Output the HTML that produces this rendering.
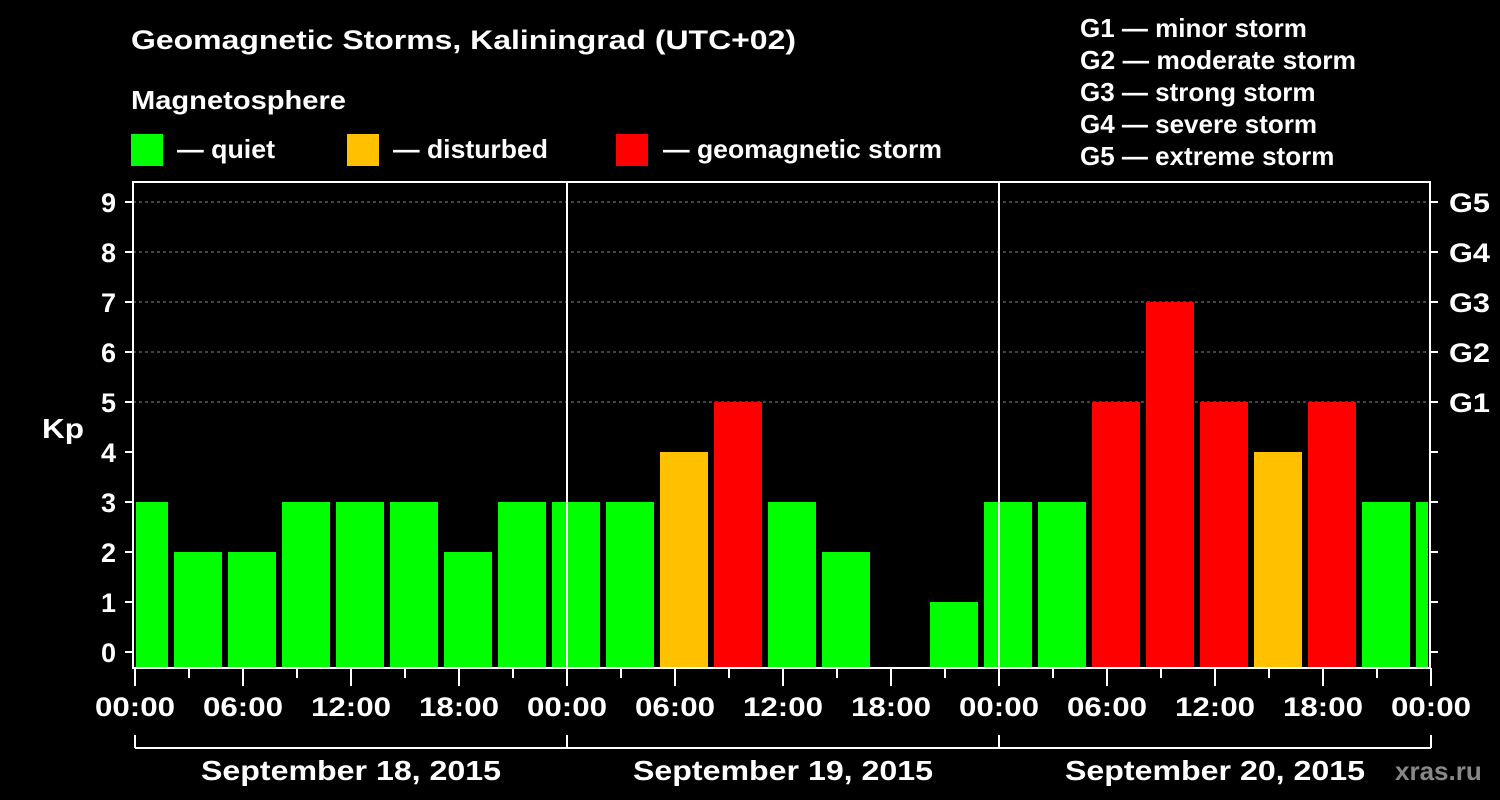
<!DOCTYPE html>
<html><head><meta charset="utf-8"><style>
body{margin:0;background:#000;}
svg{display:block;font-family:"Liberation Sans",Arial,sans-serif;font-weight:bold;}
</style></head><body>
<svg id="chart" width="1500" height="800" viewBox="0 0 1500 800">
<rect width="1500" height="800" fill="#000"/>
<text x="131" y="49" fill="#fff" font-size="27" textLength="665" lengthAdjust="spacingAndGlyphs">Geomagnetic Storms, Kaliningrad (UTC+02)</text>
<text x="131" y="109" fill="#fff" font-size="26" textLength="215" lengthAdjust="spacingAndGlyphs">Magnetosphere</text>
<g><rect x="131" y="134" width="32" height="32" fill="#00ff00"/><text x="177" y="158" fill="#fff" font-size="26" textLength="98" lengthAdjust="spacingAndGlyphs">— quiet</text></g>
<g><rect x="347" y="134" width="32" height="32" fill="#ffc000"/><text x="393" y="158" fill="#fff" font-size="26" textLength="155" lengthAdjust="spacingAndGlyphs">— disturbed</text></g>
<g><rect x="616" y="134" width="32" height="32" fill="#ff0000"/><text x="663" y="158" fill="#fff" font-size="26" textLength="279" lengthAdjust="spacingAndGlyphs">— geomagnetic storm</text></g>
<g fill="#fff" font-size="26">
<text x="1080" y="37">G1 — minor storm</text>
<text x="1080" y="69" textLength="276" lengthAdjust="spacingAndGlyphs">G2 — moderate storm</text>
<text x="1080" y="101">G3 — strong storm</text>
<text x="1080" y="133">G4 — severe storm</text>
<text x="1080" y="165">G5 — extreme storm</text>
</g>
<g id="grid"></g><g id="bars"></g><g id="axes"></g>
<text x="42" y="438" fill="#fff" font-size="28" textLength="42" lengthAdjust="spacingAndGlyphs">Kp</text>
<text x="1395" y="780" fill="#888" font-size="26">xras.ru</text>
</svg>
<script>
const kpValues=[3,2,2,3,3,3,2,3,3,3,4,5,3,2,null,1,3,3,5,7,5,4,5,3,3];
const yTicks=[0,1,2,3,4,5,6,7,8,9];
const gLabels=["G1","G2","G3","G4","G5"];
const xLabels=["00:00","06:00","12:00","18:00","00:00","06:00","12:00","18:00","00:00","06:00","12:00","18:00","00:00"];
const dayLabels=["September 18, 2015","September 19, 2015","September 20, 2015"];
const NS="http://www.w3.org/2000/svg";
const L=133,R=1430,T=182,B=668,Y0=652,U=50;
const X0=135,HR=18;
const y=v=>Y0-v*U, x=h=>X0+h*HR;
function mk(p,tag,a){const e=document.createElementNS(NS,tag);for(const k in a)e.setAttribute(k,a[k]);p.appendChild(e);return e;}
const grid=document.getElementById('grid'),bars=document.getElementById('bars'),axes=document.getElementById('axes');
[5,6,7,8,9].forEach(v=>{const l=mk(grid,'line',{x1:L,x2:R,y1:y(v),y2:y(v),stroke:'#888','stroke-dasharray':'3,3','stroke-width':1});

});
kpValues.forEach((v,i)=>{if(v==null)return;const c=0.5+i*3;let x1=x(c)-24,x2=x(c)+24;x1=Math.max(x1,L+3);x2=Math.min(x2,R-2);
const col=v>=5?'#ff0000':v>=4?'#ffc000':'#00ff00';
const r=mk(bars,'rect',{x:x1,y:y(v),width:x2-x1,height:B-1-y(v),fill:col});

});
[24,48].forEach(h=>{const l=mk(axes,'line',{x1:x(h),x2:x(h),y1:T,y2:B,stroke:'#fff','stroke-width':2});

});
const fr=mk(axes,'rect',{x:L,y:T,width:R-L,height:B-T,fill:'none',stroke:'#fff','stroke-width':2});


yTicks.forEach(v=>{mk(axes,'line',{x1:L-8,x2:L,y1:y(v),y2:y(v),stroke:'#fff','stroke-width':2});
mk(axes,'line',{x1:R,x2:R+8,y1:y(v),y2:y(v),stroke:'#fff','stroke-width':2});
const t=mk(axes,'text',{x:116,y:y(v)+10,fill:'#fff','font-size':27,'text-anchor':'end'});t.textContent=v;

});
gLabels.forEach((g,i)=>{const t=mk(axes,'text',{x:1449,y:y(5+i)+10,fill:'#fff','font-size':27,textLength:41,lengthAdjust:'spacingAndGlyphs'});t.textContent=g;

});
for(let h=0;h<=72;h+=3){const maj=h%6===0;mk(axes,'line',{x1:x(h),x2:x(h),y1:B,y2:B+(maj?18:10),stroke:'#fff','stroke-width':2});}
xLabels.forEach((s,i)=>{const t=mk(axes,'text',{x:x(i*6)-40,y:716,fill:'#fff','font-size':27,textLength:80,lengthAdjust:'spacingAndGlyphs'});t.textContent=s;

});
mk(axes,'line',{x1:x(0),x2:x(72),y1:748,y2:748,stroke:'#fff','stroke-width':2});
[0,24,48,72].forEach(h=>mk(axes,'line',{x1:x(h),x2:x(h),y1:735,y2:748,stroke:'#fff','stroke-width':2}));
dayLabels.forEach((s,i)=>{const t=mk(axes,'text',{x:x(i*24+12)-150,y:780,fill:'#fff','font-size':28,textLength:300,lengthAdjust:'spacingAndGlyphs'});t.textContent=s;

});
</script>
</body></html>
